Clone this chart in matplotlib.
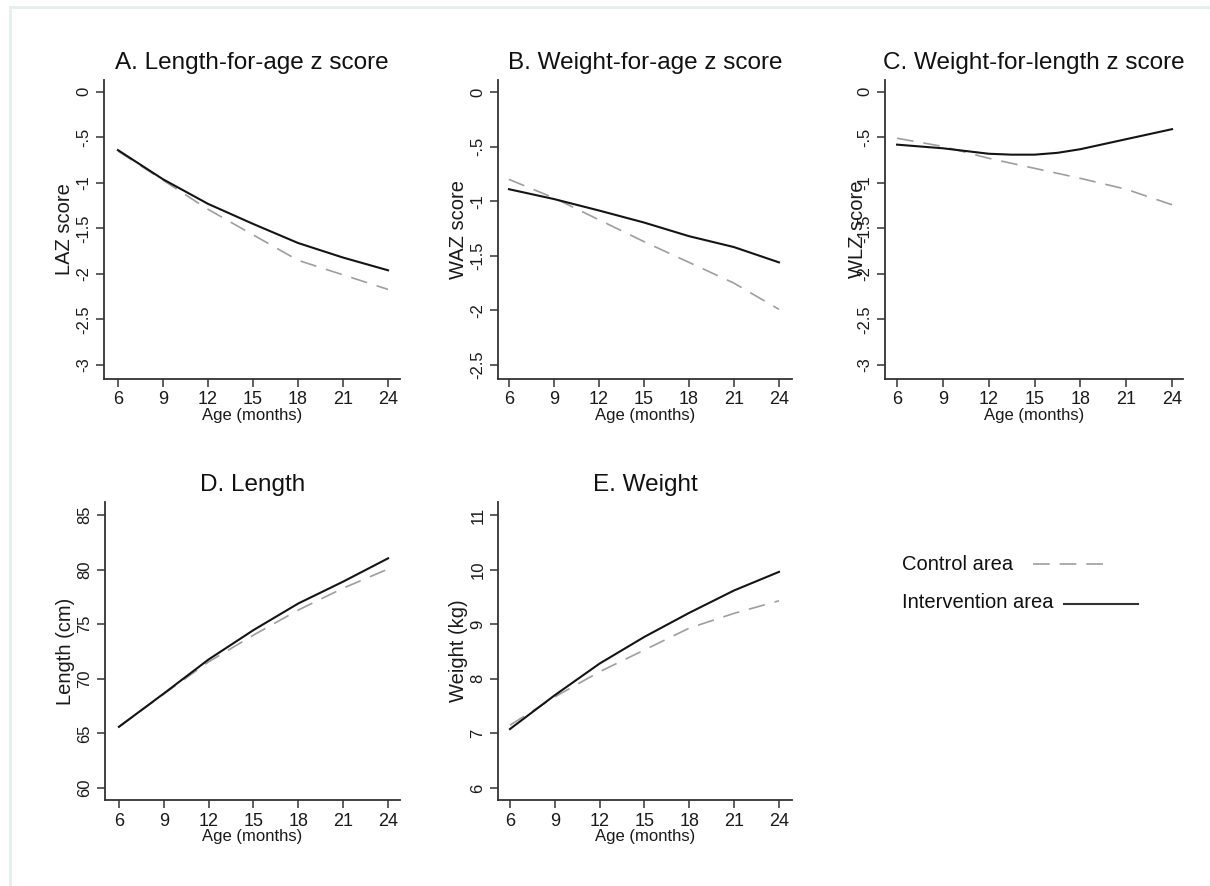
import matplotlib
matplotlib.use("Agg")
import matplotlib.pyplot as plt
from matplotlib.lines import Line2D

plt.rcParams["font.family"] = ["Liberation Sans", "DejaVu Sans"]

# ages (months) at which the curves were read
age = [6, 9, 12, 15, 18, 21, 24]
age_c = [6, 9, 12, 13.5, 15, 16.5, 18, 21, 24]

# A. length-for-age z score
laz_control = [-0.65, -0.97, -1.29, -1.57, -1.85, -2.01, -2.17]
laz_interv = [-0.64, -0.96, -1.23, -1.45, -1.66, -1.82, -1.96]

# B. weight-for-age z score
waz_control = [-0.80, -0.97, -1.17, -1.37, -1.56, -1.75, -1.99]
waz_interv = [-0.89, -0.98, -1.085, -1.195, -1.32, -1.42, -1.56]

# C. weight-for-length z score
wlz_control = [-0.51, -0.60, -0.73, -0.84, -0.95, -1.07, -1.24]
wlz_interv = [-0.58, -0.62, -0.68, -0.69, -0.69, -0.67, -0.63, -0.52, -0.41]

# D. length (cm)
len_control = [65.6, 68.6, 71.55, 74.0, 76.3, 78.3, 80.05]
len_interv = [65.6, 68.65, 71.77, 74.46, 76.9, 78.9, 81.03]

# E. weight (kg)
wt_control = [7.15, 7.67, 8.13, 8.53, 8.93, 9.20, 9.43]
wt_interv = [7.08, 7.70, 8.28, 8.77, 9.21, 9.62, 9.96]

xticks = [6, 9, 12, 15, 18, 21, 24]

W, H = 1210, 886
fig = plt.figure(figsize=(W / 100, H / 100), dpi=100)

CTRL = "#9e9e9e"
INTV = "#141414"
DASH = (10, 6)


def px_axes(left, right, top, bottom):
    return fig.add_axes([left / W, 1 - bottom / H, (right - left) / W, (bottom - top) / H])


def panel(ax, title, ylabel, xc, yc, xi, yi, yticks, yticklabels, xlim, ylim):
    ax.plot(xc, yc, color=CTRL, lw=1.2, dashes=DASH)
    ax.plot(xi, yi, color=INTV, lw=1.5)
    ax.set_xlim(*xlim)
    ax.set_ylim(*ylim)
    ax.set_xticks(xticks)
    ax.set_yticks(yticks)
    ax.set_yticklabels(yticklabels)
    ax.spines["top"].set_visible(False)
    ax.spines["right"].set_visible(False)
    for s in ("left", "bottom"):
        ax.spines[s].set_color("#333333")
        ax.spines[s].set_linewidth(1.3)
    ax.tick_params(length=6, width=1.1, color="#333333", labelcolor="#1a1a1a", pad=3)
    ax.tick_params(axis="x", labelsize=13)
    ax.tick_params(axis="y", labelsize=12)
    plt.setp(ax.get_yticklabels(), rotation=90, va="center")
    ax.set_title(title, fontsize=17.5, pad=8, color="#111111")
    ax.set_ylabel(ylabel, fontsize=14.5, labelpad=2, color="#1a1a1a")
    ax.set_xlabel("Age (months)", fontsize=12, labelpad=-0.5, color="#1a1a1a")


z_ticks = [0, -0.5, -1, -1.5, -2, -2.5, -3]
z_labels = ["0", "-.5", "-1", "-1.5", "-2", "-2.5", "-3"]

axA = px_axes(104, 400, 80, 379)
panel(axA, "A. Length-for-age z score", "LAZ score", age, laz_control, age, laz_interv,
      z_ticks, z_labels, (5.07, 24.8), (-3.154, 0.13))

axB = px_axes(498, 792, 80, 379)
panel(axB, "B. Weight-for-age z score", "WAZ score", age, waz_control, age, waz_interv,
      z_ticks[:6], z_labels[:6], (5.27, 24.87), (-2.628, 0.11))

axC = px_axes(885, 1183, 80, 379)
panel(axC, "C. Weight-for-length z score", "WLZ score", age, wlz_control, age_c, wlz_interv,
      z_ticks, z_labels, (5.21, 24.72), (-3.154, 0.13))
# in the original the WLZ label sits on top of the tick labels
axC.yaxis.set_label_coords(-0.06, 0.5)

axD = px_axes(105, 400, 502, 800)
panel(axD, "D. Length", "Length (cm)", age, len_control, age, len_interv,
      [60, 65, 70, 75, 80, 85], ["60", "65", "70", "75", "80", "85"],
      (5.07, 24.8), (58.9, 86.19))

axE = px_axes(498, 792, 502, 800)
panel(axE, "E. Weight", "Weight (kg)", age, wt_control, age, wt_interv,
      [6, 7, 8, 9, 10, 11], ["6", "7", "8", "9", "10", "11"],
      (5.2, 24.87), (5.78, 11.24))

# legend drawn by hand, as in the original
fig.text(902 / W, 1 - 565 / H, "Control area", fontsize=14.5, va="center", color="#111111")
fig.text(902 / W, 1 - 602 / H, "Intervention area", fontsize=14.5, va="center", color="#111111")
fig.add_artist(Line2D([1033 / W, 1105 / W], [1 - 564 / H, 1 - 564 / H],
                      transform=fig.transFigure, color=CTRL, lw=1.2, dashes=DASH))
fig.add_artist(Line2D([1064 / W, 1138 / W], [1 - 604 / H, 1 - 604 / H],
                      transform=fig.transFigure, color="#333333", lw=1.5))

# faint frame at top and left
fig.add_artist(Line2D([10 / W, 1], [1 - 7 / H, 1 - 7 / H], transform=fig.transFigure,
                      color="#e6eeee", lw=2))
fig.add_artist(Line2D([10 / W, 10 / W], [0, 1 - 7 / H], transform=fig.transFigure,
                      color="#e6eeee", lw=2))

fig.savefig("out.png", dpi=100)
